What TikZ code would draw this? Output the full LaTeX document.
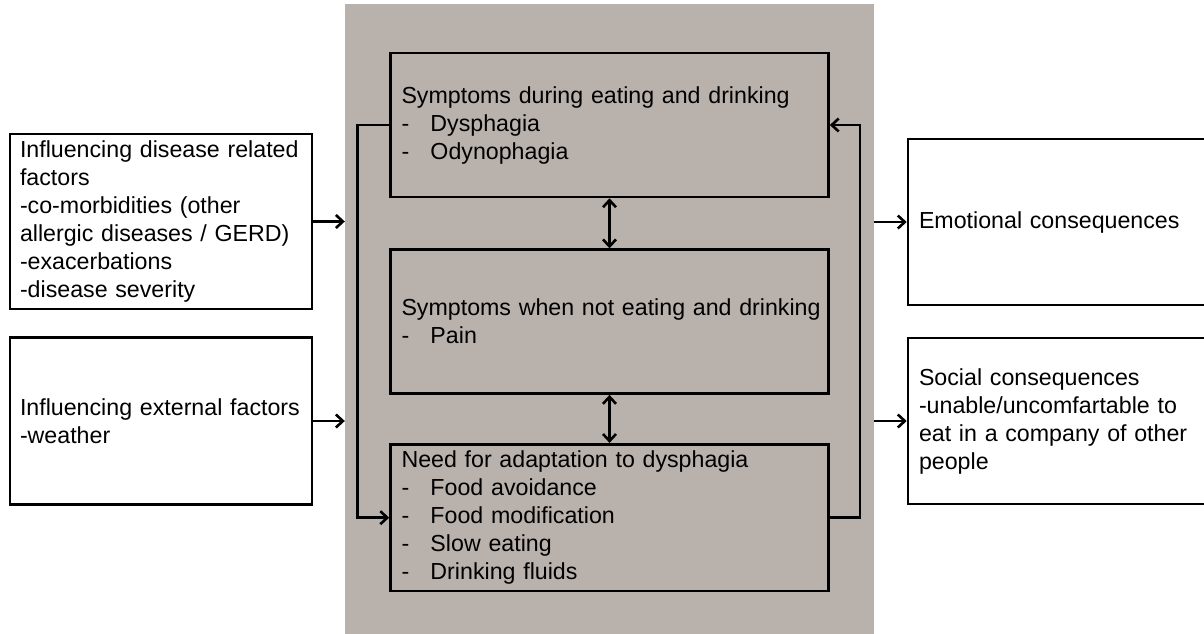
\documentclass[tikz,border=0pt]{standalone}
\usepackage{fontspec}
\setmainfont{Liberation Sans}
\usepackage{xcolor}
\usetikzlibrary{arrows.meta,positioning,fit,backgrounds}

\definecolor{panelgray}{RGB}{185,177,172}
\newcommand{\dashitem}[1]{\makebox[14.5pt][l]{-}#1}

\begin{document}
\begin{tikzpicture}[
    x=0.5pt, y=-0.5pt,
    node distance=25pt and 18pt,
    >={Straight Barb[length=3.5pt, width=6.5pt]},
    line width=1.3pt,
    sympbox/.style={
        rectangle, draw, fill=panelgray,
        text width=212pt, inner xsep=3.5pt,
        minimum height=72pt, align=left,
        font=\fontsize{11.6}{14}\selectfont
    },
    factbox/.style={
        rectangle, draw, fill=white,
        text width=141pt, inner xsep=5pt,
        minimum height=83.5pt, align=left,
        font=\fontsize{11.6}{14}\selectfont
    },
    consbox/.style={
        rectangle, draw, fill=white,
        text width=146pt, inner xsep=5.5pt,
        minimum height=83pt, align=left,
        font=\fontsize{11.6}{14}\selectfont
    },
    bgpanel/.style={
        rectangle, fill=panelgray, draw=none
    }
]
    \useasboundingbox (0,0) rectangle (1204,633);
    \clip (0,0) rectangle (1204,633);

    % Symptom boxes in the middle
    \node [sympbox] (eat) at (609.5,125) {\hspace*{2pt}Symptoms during eating and drinking\\
        \hspace*{2pt}\dashitem{Dysphagia}\\\hspace*{2pt}\dashitem{Odynophagia}};
    \node [sympbox, below=of eat] (noeat) {\hspace*{2pt}Symptoms when not eating and drinking\\
        \hspace*{2pt}\dashitem{Pain}};
    \node [sympbox, below=24pt of noeat] (adapt) {\hspace*{2pt}Need for adaptation to dysphagia\\
        \hspace*{2pt}\dashitem{Food avoidance}\\\hspace*{2pt}\dashitem{Food modification}\\
        \hspace*{2pt}\dashitem{Slow eating}\\\hspace*{2pt}\dashitem{Drinking fluids}};

    % Gray panel behind
    \begin{scope}[on background layer]
        \node [bgpanel, fit=(eat)(adapt), inner xsep=22pt, inner ysep=24pt] (panel) {};
    \end{scope}

    % Influencing factors
    \node [factbox] (disease) at (161,221.5) {Influencing disease related\\factors\\
        -co-morbidities (other\\allergic diseases / GERD)\\-exacerbations\\-disease severity};
    \node [factbox] (external) at (161,421) {Influencing external factors\\-weather};

    % Consequences
    \node [consbox] (emotional) at (1065,222) {Emotional consequences};
    \node [consbox] (social) at (1065,421) {Social consequences\\-unable/uncomfartable to\\
        eat in a company of other\\people};

    % Arrows
    \draw [->] (disease.east) -- (disease.east -| panel.west);
    \draw [->] (external.east) -- (external.east -| panel.west);
    \draw [->] (panel.east |- emotional) -- (emotional.west);
    \draw [->] (panel.east |- social) -- (social.west);

    \draw [<->] (eat) -- (noeat);
    \draw [<->] (noeat) -- (adapt);

    \draw [->] (eat.west) -- ++(-16pt,0) |- (adapt.west);
    \draw [->] (adapt.east) -- ++(15pt,0) |- (eat.east);

\end{tikzpicture}
\end{document}
